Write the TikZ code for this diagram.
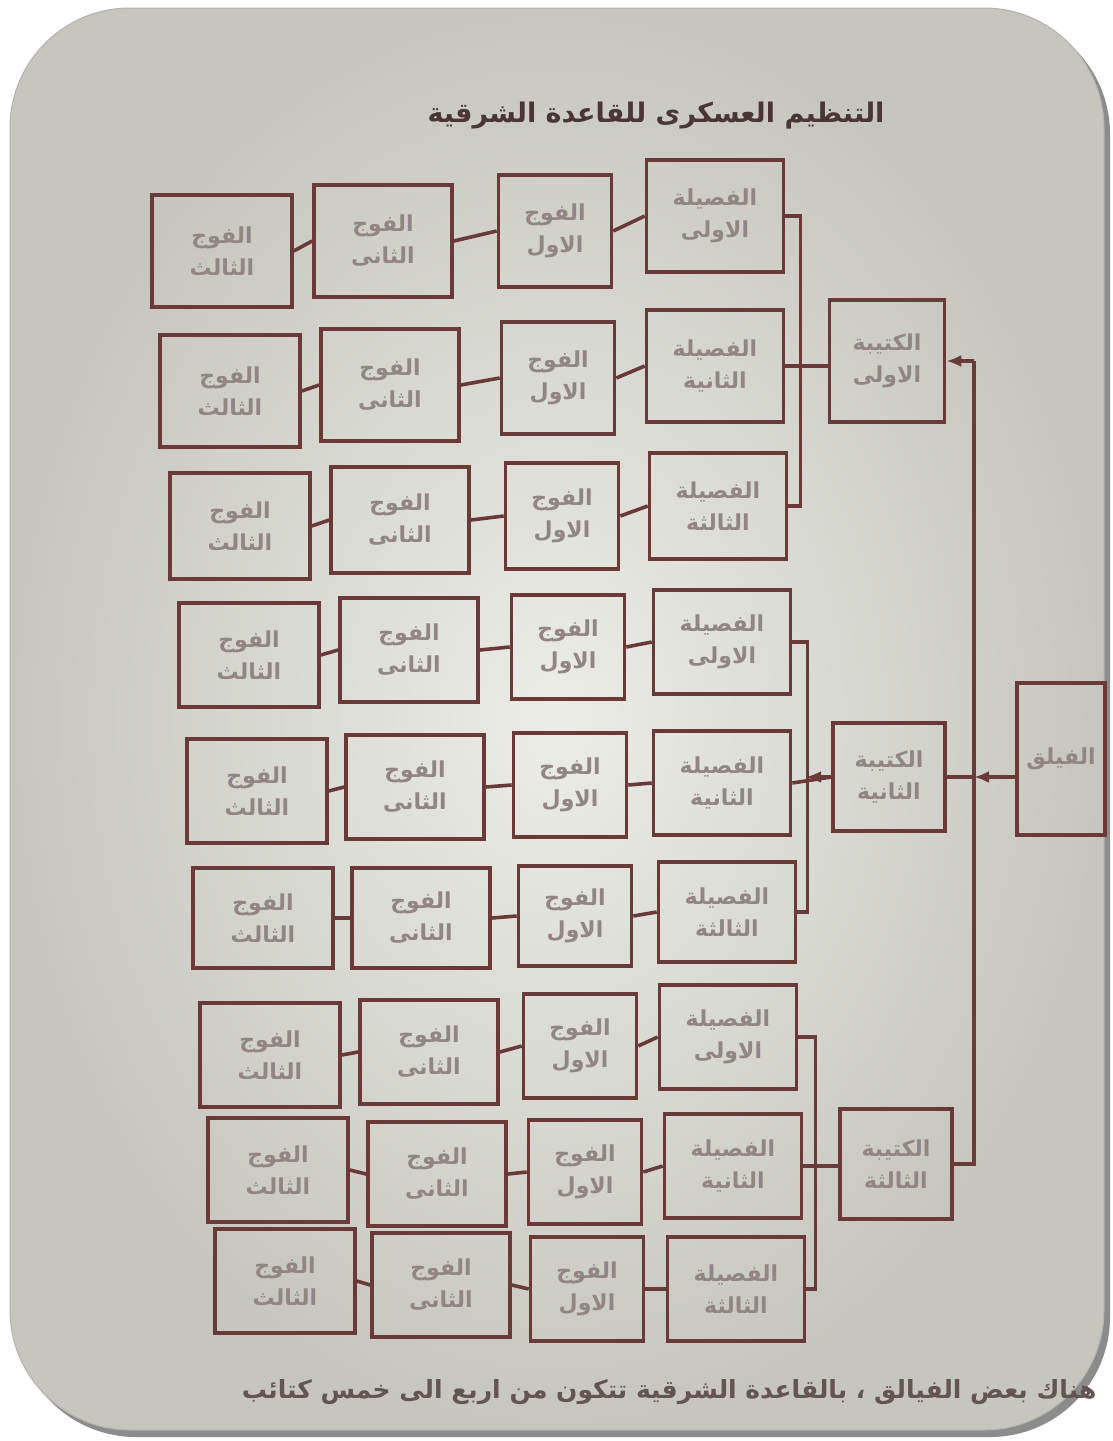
\documentclass[tikz,border=0pt]{standalone}
\usepackage{fontspec}
\usetikzlibrary{arrows.meta,calc}
\TeXXeTstate=1
\newfontfamily\arabicfont[Script=Arabic]{DejaVu Sans}
\newcommand{\artxt}[1]{\beginR #1\endR}
\definecolor{linec}{HTML}{6A3A38}
\definecolor{textc}{HTML}{918685}
\definecolor{pagein}{HTML}{ECEDE8}
\definecolor{pageout}{HTML}{C6C6BE}
\definecolor{titlec}{HTML}{4A3636}
\begin{document}
\begin{tikzpicture}[x=1pt,y=-1pt,
  unitbox/.style={draw=linec, line width=3.6pt, inner sep=0pt, align=center,
    font=\arabicfont\bfseries\fontsize{22}{32}\selectfont, text=textc},
  pbox/.style={unitbox, minimum width=137pt},
  aabox/.style={unitbox, minimum width=113pt},
  bbbox/.style={unitbox, minimum width=138pt},
  ccbox/.style={unitbox, minimum width=140pt},
  link/.style={draw=linec, line width=3.6pt},
  tiplink/.style={link, -{Latex[length=15pt,width=12pt]}}
]
\useasboundingbox (0,0) rectangle (1112,1441);
\fill[white] (0,0) rectangle (1112,1441);
% page / frame
\fill[black!45, rounded corners=120pt] (16,14) rectangle (1110,1437);
\shade[inner color=pagein, outer color=pageout, rounded corners=120pt, draw=gray!60, line width=1pt]
  (10,8) rectangle (1104,1430);
% title
\node[anchor=east, font=\arabicfont\bfseries\fontsize{27}{30}\selectfont, text=titlec] (title) at (888,116) {\artxt{التنظيم العسكرى للقاعدة الشرقية}};
% rows
\foreach \r/\py/\px/\ay/\ax/\by/\bx/\cy/\cx/\h/\lab in {
  1/216/715/231/555/241/383/251/222/112/الاولى,
  2/366/715/378/558/385/390/391/230/112/الثانية,
  3/506/718/516/562/520/400/526/240/106/الثالثة,
  4/642/722/647/568/650/409/655/249/104/الاولى,
  5/783/722/785/570/787/415/791/257/104/الثانية,
  6/912/727/916/575/918/421/918/263/100/الثالثة,
  7/1037/728/1046/580/1052/429/1055/270/104/الاولى,
  8/1166/733/1172/585/1174/437/1170/278/104/الثانية,
  9/1289/736/1289/587/1285/441/1281/285/104/الثالثة}{
  \node[pbox, minimum height=\h pt] (p\r) at (\px,\py) {\artxt{الفصيلة}\\\artxt{\lab}};
  \node[aabox, minimum height=\h pt] (a\r) at (\ax,\ay) {\artxt{الفوج}\\\artxt{الاول}};
  \node[bbbox, minimum height=\h pt] (b\r) at (\bx,\by) {\artxt{الفوج}\\\artxt{الثانى}};
  \node[ccbox, minimum height=\h pt] (c\r) at (\cx,\cy) {\artxt{الفوج}\\\artxt{الثالث}};
  \draw[link] (c\r.east) -- (b\r.west);
  \draw[link] (b\r.east) -- (a\r.west);
  \draw[link] (a\r.east) -- (p\r.west);
}
% battalions and corps
\node[unitbox, minimum width=115pt, minimum height=122pt] (k1) at (887,361) {\artxt{الكتيبة}\\\artxt{الاولى}};
\node[unitbox, minimum width=112pt, minimum height=108pt] (k2) at (889,777) {\artxt{الكتيبة}\\\artxt{الثانية}};
\node[unitbox, minimum width=112pt, minimum height=110pt] (k3) at (896,1164) {\artxt{الكتيبة}\\\artxt{الثالثة}};
\node[unitbox, minimum width=88pt, minimum height=152pt] (corps) at (1061,759) {\artxt{الفيلق}};
\coordinate (trunk) at (974,0);
% platoon groups
\draw[link] (p1.east) -- ++(15,0) |- (p3.east);
\draw[link] (p2.east) -- (p2.east -| k1.west);
\draw[link] (p4.east) -- ++(15,0) |- (p6.east);
\coordinate (g2) at (806,0);
\draw[link] (p5.east) -- (k2.west);
\draw[tiplink] (k2.west) -- (k2.west -| g2);
\draw[link] (p7.east) -- ++(17,0) |- (p9.east);
\draw[link] (p8.east) -- (p8.east -| k3.west);
% trunk
\draw[link] (k3.east) -- (k3.east -| trunk) -- (trunk |- k1.east);
\draw[tiplink] (trunk |- k1.east) -- (k1.east);
\draw[tiplink] (k2.east -| corps.west) -- (k2.east -| trunk);
\draw[link] (k2.east -| trunk) -- (k2.east);
% footnote
\node[anchor=east, font=\arabicfont\bfseries\fontsize{25}{30}\selectfont, text=titlec!85] (note) at (1100,1392) {\artxt{هناك بعض الفيالق ، بالقاعدة الشرقية تتكون من اربع الى خمس كتائب}};
\end{tikzpicture}
\end{document}
